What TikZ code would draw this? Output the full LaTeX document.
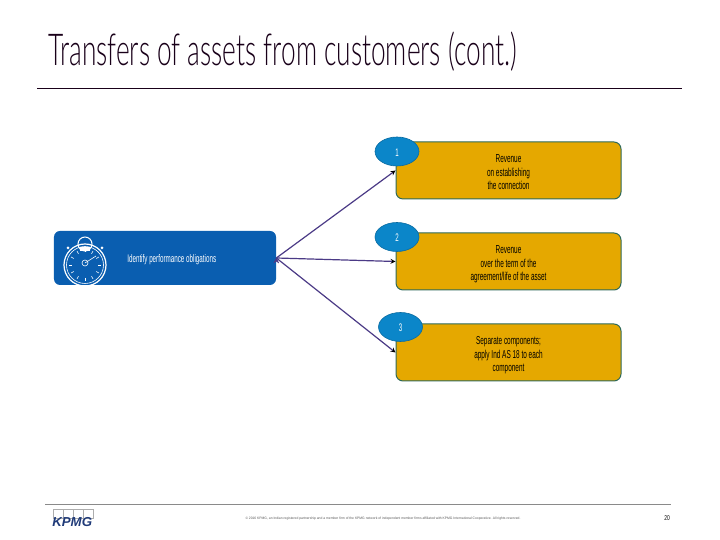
\documentclass[tikz,border=0pt]{standalone}
\usepackage{fontspec}
\setmainfont{Liberation Sans}
\newfontfamily\titlefont{Lato Light}
\usepackage{graphicx}
\usepackage{array}
\usetikzlibrary{arrows,arrows.meta,shapes.geometric}
\definecolor{goldfill}{HTML}{E5A800}
\definecolor{goldline}{HTML}{2F6A5A}
\definecolor{srcblue}{HTML}{0A5EB0}
\definecolor{numblue}{HTML}{0B86C9}
\definecolor{arrowviolet}{HTML}{4B3A86}
\definecolor{rulegray}{HTML}{8A8A8A}
\definecolor{kpmgblue}{HTML}{1F3A78}
\newcommand{\squeezed}[2][0.56]{\scalebox{#1}[1]{#2}}
\newcommand{\threelines}[3]{\squeezed{\begin{tabular}{@{}c@{}}\rule{0pt}{15.5bp}#1\\#2\\#3\end{tabular}}}

\begin{document}
\begin{tikzpicture}[
        x = 1bp,
        y = 1bp,
        > = stealth, % arrow head style
        node distance = 91bp, % distance between boxes
        semithick % line style
    ]

    \tikzset{
        goldbox/.style = {
            draw = goldline,
            line width = 1bp,
            fill = goldfill,
            rounded corners = 7bp,
            minimum width = 225bp,
            minimum height = 57bp,
            inner sep = 0pt,
            font = \fontsize{11.5bp}{13.6bp}\selectfont
        },
        numblob/.style = {
            ellipse,
            draw = numblue!80!black,
            fill = numblue,
            text = white,
            minimum width = 44bp,
            minimum height = 29bp,
            inner sep = 0pt,
            text height = 10bp,
            text depth = 0pt,
            font = \fontsize{11bp}{12bp}\selectfont
        },
        srcbox/.style = {
            fill = srcblue,
            rounded corners = 6bp,
            minimum width = 222bp,
            minimum height = 54bp,
            inner sep = 0pt
        },
        flow/.style = {
            ->,
            draw = arrowviolet,
            line width = 1.2bp
        },
        watch/.style = {
            draw = white,
            line width = 0.6bp
        },
        logocell/.style = {
            draw = rulegray!70,
            line width = 0.4bp,
            minimum width = 10bp,
            minimum height = 9bp,
            inner sep = 0pt
        }
    }

    % title
    \useasboundingbox (0,0) rectangle (720,540);
    \node[anchor=west, inner sep=0pt, text=black!80!violet] (title) at (48,488)
        {\titlefont\fontsize{44bp}{46bp}\selectfont\squeezed[0.597]{Transfers of assets from customers (cont.)}};
    \coordinate (ruleL) at (37,452);
    \coordinate (ruleR) at (682,452);
    \draw[black!80!violet, line width=0.7bp] (ruleL) -- (ruleR);

    % boxes
    \node[goldbox] (box1) at (508.5,369.5) {\threelines{Revenue}{on establishing}{the connection}};
    \node[goldbox] (box2) [below of=box1] {\threelines{Revenue}{over the term of the}{agreement/life of the asset}};
    \node[goldbox] (box3) [below of=box2] {\threelines{Separate components;}{apply Ind AS 18 to each}{component}};

    \node[numblob] (num1) at (397,388.5) {\squeezed{1}};
    \node[numblob] (num2) at (397,303) {\squeezed{2}};
    \node[numblob] (num3) at (400.5,213) {\squeezed{3}};

    \node[srcbox] (source) at (165,282) {};
    \node[text=white, anchor=west, inner sep=0pt, font=\fontsize{11bp}{12bp}\selectfont] (srctext) at (127,280)
        {\squeezed[0.57]{Identify performance obligations}};

    \path[flow] (source.east) edge (box1.west);
    \path[flow] (source.east) edge (box2.west);
    \path[flow] (source.east) edge (box3.west);

    % stopwatch
    \draw[watch, line width=1.2bp] (85,275) circle (21);
    \draw[watch] (85,275) circle (18.5);
    \draw[watch, line width=1bp] (85,296) circle (7);
    \fill[white] (80,289) rectangle (90,293);
    \fill[white] (68,292) circle (1.5);
    \fill[white] (102,292) circle (1.5);
    \foreach \ang in {0,30,...,330} {
        \draw[watch] (85,275) ++(\ang:13) -- ++(\ang:3);
    }
    \draw[watch] (85,277) circle (3);
    \draw[watch] (85,277) -- (96,284);

    % footer
    \coordinate (footL) at (45,36);
    \coordinate (footR) at (671,36);
    \draw[rulegray, line width=0.7bp] (footL) -- (footR);
    \node[logocell] (cell1) at (58,26) {};
    \node[logocell] (cell2) [right of=cell1, node distance=10bp] {};
    \node[logocell] (cell3) [right of=cell2, node distance=10bp] {};
    \node[logocell] (cell4) [right of=cell3, node distance=10bp] {};
    \node[anchor=west, inner sep=0pt, text=kpmgblue, font=\fontsize{13bp}{13bp}\selectfont\bfseries\itshape] (logo) at (52,18) {\squeezed[1.02]{KPMG}};
    \node[text=black!65, inner sep=0pt, font=\fontsize{3.4bp}{4bp}\selectfont] (legal) at (383,21)
        {\squeezed[0.98]{© 2016 KPMG, an Indian registered partnership and a member firm of the KPMG network of independent member firms affiliated with KPMG International Cooperative. All rights reserved.}};
    \node[inner sep=0pt, font=\fontsize{7bp}{7bp}\selectfont] (pagenum) at (667,22) {\squeezed[0.7]{20}};
\end{tikzpicture}
\end{document}
